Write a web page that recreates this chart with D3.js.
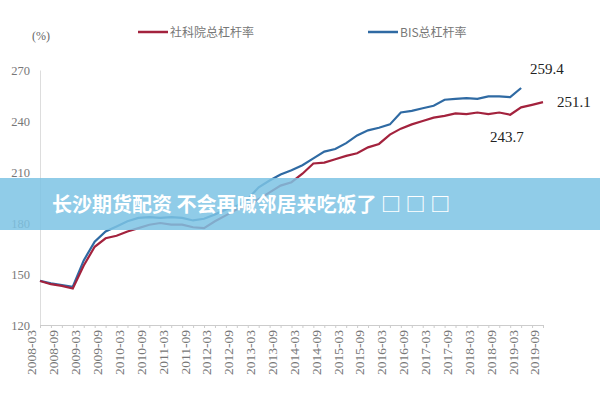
<!DOCTYPE html><html><head><meta charset="utf-8"><script src="https://cdn.jsdelivr.net/npm/d3@7"></script>
<style>body{margin:0;background:#fff}</style></head><body><svg id="c" width="600" height="400"></svg>
<script>
const quarters=[];for(let y=2008;y<=2019;y++)for(const m of ["03","06","09","12"]){if(y===2019&&m==="12")continue;quarters.push(y+"-"+m);}
const tickLabels=quarters.filter(q=>q.endsWith("03")||q.endsWith("09"));
const redValues=[145.9,144,143,141.5,155,166,171,172.5,175,177,179,180,179,179,177.5,177,181,184.5,188,190,194,198,202,204,209,215,215.5,217.5,219.5,221,224.5,226.5,232,235.5,238,240,242,243,244.5,244,245,244,245,243.7,248,249.5,251.1];
const blueValues=[146,144.5,143.5,142.5,158,169,175,178,181,183,183.5,183,183.5,183,181.5,182.5,185,188,190,194,201,205,208.5,211,214,218,222,223.5,227,231.5,234.5,236,238,245,246,247.5,249,252.5,253,253.5,253,254.5,254.5,254,259.4];
const yTicks=[120,150,180,210,240,270];
const seriesNames=["社科院总杠杆率","BIS总杠杆率"];
const colors=["#a3223d","#2f6aa3"];
const svg=d3.select("#c");
const x=d3.scalePoint().domain(quarters).range([40,543]);
const y=d3.scaleLinear().domain([120,270]).range([325,70]);
const ya=svg.append("g").attr("transform","translate(40,0)").call(d3.axisLeft(y).tickValues(yTicks).tickSize(0).tickPadding(10));
ya.select(".domain").attr("stroke","#ddd");
ya.selectAll("text").attr("font-family","Liberation Serif").attr("font-size",12.5).attr("fill","#777");
const xa=svg.append("g").attr("transform","translate(0,325)").call(d3.axisBottom(x).tickSize(3).tickFormat(d=>tickLabels.includes(d)?d:""));
xa.select(".domain").attr("stroke","#ccc");xa.selectAll("line").attr("stroke","#ccc");
xa.selectAll("text").attr("font-family","Liberation Serif").attr("font-size",13.5).attr("fill","#777")
 .attr("transform","rotate(-90)").attr("text-anchor","end").attr("dx","-5").attr("dy","-0.3em").attr("x",0).attr("y",0);
svg.append("text").attr("x",32).attr("y",40).text("(%)").attr("font-family","Liberation Serif").attr("font-size",12).attr("fill","#666");
const line=d3.line().x((d,i)=>x(quarters[i])).y(d=>y(d));
[blueValues,redValues].forEach((v,k)=>svg.append("path").attr("d",line(v)).attr("fill","none").attr("stroke",colors[1-k]).attr("stroke-width",2.2));
[[138,0],[368,1]].forEach(([lx,i])=>{svg.append("line").attr("x1",lx).attr("x2",lx+30).attr("y1",32).attr("y2",32).attr("stroke",colors[i]).attr("stroke-width",2.5);
svg.append("text").attr("x",lx+32).attr("y",36.5).text(seriesNames[i]).attr("font-family","Noto Sans CJK SC").attr("font-size",12).attr("fill","#777");});
const lab=(t,xx,yy)=>svg.append("text").attr("x",xx).attr("y",yy).text(t).attr("font-family","Liberation Serif").attr("font-size",15).attr("fill","#222");
lab("259.4",530,74);lab("251.1",557,107);lab("243.7",490,142);
svg.append("rect").attr("x",0).attr("y",178).attr("width",600).attr("height",52).attr("fill","rgba(125,195,228,0.85)");
svg.append("text").attr("x",52).attr("y",212).text("长沙期货配资 不会再喊邻居来吃饭了 □ □ □").attr("font-family","Noto Sans CJK SC").attr("font-weight","bold").attr("font-size",20).attr("fill","#fff");
</script></body></html>
